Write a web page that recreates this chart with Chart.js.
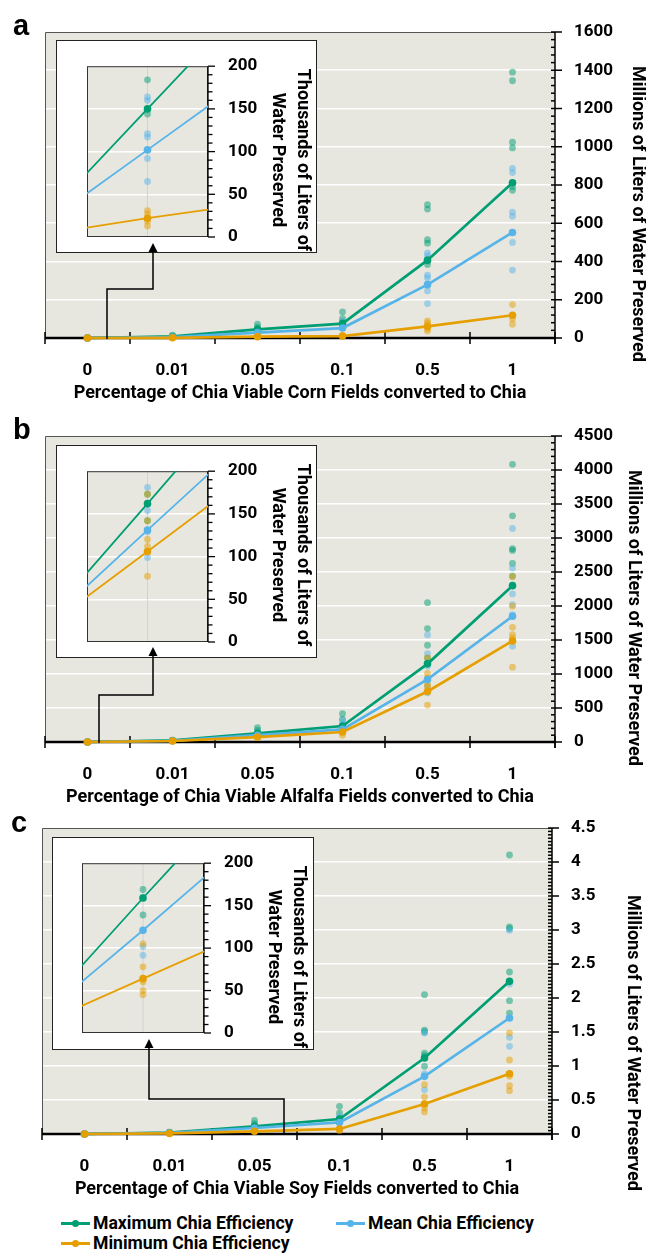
<!DOCTYPE html>
<html>
<head>
<meta charset="utf-8">
<script src="https://cdn.jsdelivr.net/npm/chart.js@4.4.1/dist/chart.umd.min.js"></script>
<style>
  body { margin: 0; background: #fff; }
  #fig { position: relative; width: 646px; height: 1253px; overflow: hidden; background: #fff; }
  #fig canvas { position: absolute; }
  .lg { position: absolute; display: flex; align-items: center; height: 20px; font: bold 17.6px Roboto, sans-serif; color: #000; white-space: nowrap; }
  .sw { position: relative; width: 29px; height: 3px; margin-right: 3px; }
  .sw::after { content: ""; position: absolute; left: 11px; top: -2px; width: 7px; height: 7px; border-radius: 50%; background: inherit; }
</style>
</head>
<body>
<div id="fig">
  <canvas id="cornMain" width="646" height="410" style="left:0;top:0"></canvas>
  <canvas id="alfalfaMain" width="646" height="410" style="left:0;top:404px"></canvas>
  <canvas id="soyMain" width="646" height="410" style="left:0;top:796px"></canvas>
  <canvas id="cornInset" width="290" height="306" style="left:50px;top:36px"></canvas>
  <canvas id="alfalfaInset" width="290" height="306" style="left:50px;top:441px"></canvas>
  <canvas id="soyInset" width="290" height="305" style="left:46px;top:833px"></canvas>

  <div class="lg" style="left:61px;top:1213px"><span class="sw" style="background:#009E73"></span>Maximum Chia Efficiency</div>
  <div class="lg" style="left:336px;top:1213px"><span class="sw" style="background:#56B4E9"></span>Mean Chia Efficiency</div>
  <div class="lg" style="left:61px;top:1233px"><span class="sw" style="background:#E69F00"></span>Minimum Chia Efficiency</div>
</div>
<script>
// x categories (fraction of viable fields converted)
const categories = ["0", "0.01", "0.05", "0.1", "0.5", "1"];
// the insets zoom in on the 0.01 category: positions 0, 1, 2 = 0, 0.01, 0.05
const insetPositions = [0, 1, 2];

// Corn, millions of liters
const cornMax = [0, 8, 45, 75, 407, 812];
const cornMean = [0, 5, 28, 52, 279, 552];
const cornMin = [0, 1, 7, 10, 61, 119];
const cornMaxRuns = [[], [15], [73, 57], [136, 101, 84], [697, 674, 514, 496, 402, 384], [1390, 1345, 1024, 994, 791, 772]];
const cornMeanRuns = [[], [], [40, 35], [84, 67], [445, 430, 328, 314, 246, 180], [887, 865, 658, 636, 500, 355]];
const cornMinRuns = [[], [], [], [14], [89, 79, 49, 37], [175, 101, 72]];

// Alfalfa, millions of liters
const alfalfaMax = [0, 23, 127, 235, 1149, 2299];
const alfalfaMean = [0, 18, 100, 186, 920, 1849];
const alfalfaMin = [0, 15, 73, 147, 743, 1487];
const alfalfaMaxRuns = [[], [], [210, 171], [416, 333], [2049, 1668, 1423, 1237, 1164], [4084, 3326, 2842, 2817, 2626, 2440]];
const alfalfaMeanRuns = [[], [], [], [308, 259], [1575, 1301, 1115, 822, 724], [3140, 2558, 2177, 2020, 1873, 1409]];
const alfalfaMinRuns = [[], [], [], [98], [1237, 1008, 944, 846, 812, 543], [2430, 1996, 1687, 1580, 1531, 1100]];

// Soy, millions of liters
const soyMax = [0, 0.022, 0.113, 0.22, 1.118, 2.245];
const soyMean = [0, 0.017, 0.088, 0.17, 0.848, 1.706];
const soyMin = [0, 0.009, 0.04, 0.074, 0.441, 0.887];
const soyMaxRuns = [[], [], [0.2, 0.152], [0.407, 0.309], [2.049, 1.529, 1.5, 1.19, 1.152, 0.995], [4.103, 3.044, 3.02, 2.382, 1.961, 1.779]];
const soyMeanRuns = [[], [], [], [0.26, 0.21], [1.485, 0.887, 0.652], [2.995, 2.206, 1.422, 1.289]];
const soyMinRuns = [[], [], [], [0.049], [0.725, 0.544, 0.382, 0.324], [1.485, 1.088, 0.848, 0.711, 0.637]];

// Insets, thousands of liters (0, 0.01, 0.05) and the runs at 0.01
const cornInsetMax = [0, 150, 300];
const cornInsetMean = [0, 102, 204];
const cornInsetMin = [0, 22, 42];
const cornInsetMaxRuns = [184, 144];
const cornInsetMeanRuns = [164, 160, 121, 117, 92, 65];
const cornInsetMinRuns = [31, 27, 18.5, 13];

const alfalfaInsetMax = [0, 162, 326];
const alfalfaInsetMean = [0, 131, 261];
const alfalfaInsetMin = [0, 106, 212];
const alfalfaInsetMaxRuns = [173, 142];
const alfalfaInsetMeanRuns = [181, 154, 129, 99];
const alfalfaInsetMinRuns = [173, 142, 120, 112, 77];

const soyInsetMax = [0, 159, 315];
const soyInsetMean = [0, 121, 245];
const soyInsetMin = [0, 64, 128];
const soyInsetMaxRuns = [169, 139];
const soyInsetMeanRuns = [160, 102, 91.5];
const soyInsetMinRuns = [105, 78, 60, 50, 45];

const yTitle = "Millions of Liters of Water Preserved";
const insetTitle = ["Thousands of Liters of", "Water Preserved"];

const COLORS = { max: "#009E73", mean: "#56B4E9", min: "#E69F00" };
const FADED = { max: "rgba(0,158,115,0.5)", mean: "rgba(86,180,233,0.5)", min: "rgba(230,159,0,0.5)" };
const PLOT_BG = "#e8e7df";
const BOLD17 = { family: "Roboto", size: 17, weight: "bold" };
const BOLD18 = { family: "Roboto", size: 18, weight: "bold" };

Chart.defaults.font.family = "Roboto";
Chart.defaults.color = "#000";

function runPoints(runs) {
  const pts = [];
  runs.forEach((vals, i) => vals.forEach((v) => pts.push({ x: categories[i], y: v })));
  return pts;
}

function lineSet(label, data, color, width, radius) {
  return {
    label, data, clip: false,
    borderColor: color, backgroundColor: color, borderWidth: width,
    pointRadius: radius, pointBackgroundColor: color, pointBorderWidth: 0, tension: 0,
  };
}

function dotSet(label, data, color, radius, clip) {
  return {
    label, data, clip, showLine: false,
    pointRadius: radius, pointBackgroundColor: color, pointBorderWidth: 0,
  };
}

function seg(ctx, x1, y1, x2, y2) {
  ctx.beginPath();
  ctx.moveTo(x1, y1);
  ctx.lineTo(x2, y2);
  ctx.stroke();
}

function rotatedText(ctx, text, x, y) {
  ctx.save();
  ctx.translate(x, y);
  ctx.rotate(Math.PI / 2);
  ctx.textAlign = "center";
  ctx.textBaseline = "middle";
  ctx.fillText(text, 0, 0);
  ctx.restore();
}

// frame, ticks, panel letter and axis title of the big charts
const mainDecor = {
  id: "decor",
  beforeDraw(chart) {
    const { ctx, chartArea: a } = chart;
    ctx.save();
    ctx.fillStyle = PLOT_BG;
    ctx.fillRect(a.left, a.top, a.right - a.left, a.bottom - a.top);
    ctx.restore();
  },
  beforeDatasetsDraw(chart, args, o) {
    const { ctx, chartArea: a, scales: { x, y } } = chart;
    ctx.save();
    ctx.strokeStyle = "#555";
    ctx.lineWidth = 1;
    ctx.beginPath();
    ctx.moveTo(a.left + 0.5, a.bottom);
    ctx.lineTo(a.left + 0.5, a.top + 0.5);
    ctx.lineTo(a.right, a.top + 0.5);
    ctx.stroke();

    ctx.strokeStyle = "#000";
    ctx.lineWidth = 1.5;
    seg(ctx, a.right, a.top, a.right, a.bottom + 6);
    const n = Math.round(y.max / o.minor);
    const per = Math.round(o.step / o.minor);
    for (let k = 0; k <= n; k++) {
      const py = y.getPixelForValue(k * o.minor);
      if (k % per === 0) seg(ctx, a.right - 4, py, a.right + 7, py);
      else seg(ctx, a.right - 4, py, a.right, py);
    }

    const half = (x.getPixelForValue(1) - x.getPixelForValue(0)) / 2;
    for (let i = 0; i <= categories.length; i++) {
      const px = x.getPixelForValue(0) - half + i * 2 * half;
      seg(ctx, px, a.bottom - 6, px, a.bottom + 6);
    }
    ctx.lineWidth = 2.5;
    seg(ctx, a.left, a.bottom, a.right, a.bottom);
    ctx.restore();
  },
  afterDraw(chart, args, o) {
    const { ctx } = chart;
    ctx.save();
    ctx.fillStyle = "#000";
    ctx.font = "bold 29px 'Liberation Sans', Arial, sans-serif";
    ctx.textBaseline = "alphabetic";
    ctx.fillText(o.letter, o.letterX, o.letterY);
    ctx.font = "bold 18px Roboto";
    rotatedText(ctx, yTitle, o.titleX, o.titleY);
    ctx.restore();
  },
};

// white box, plot frame, ticks, arrow and title of the insets (page coordinates)
const insetDecor = {
  id: "insetDecor",
  beforeDraw(chart, args, o) {
    const { ctx, chartArea: a } = chart;
    const [ox, oy] = o.origin;
    ctx.save();
    ctx.translate(-ox, -oy);
    const [bx1, by1, bx2, by2] = o.box;
    ctx.fillStyle = "#fff";
    ctx.fillRect(bx1, by1, bx2 - bx1, by2 - by1);
    ctx.strokeStyle = "#222";
    ctx.lineWidth = 1;
    ctx.strokeRect(bx1 + 0.5, by1 + 0.5, bx2 - bx1 - 1, by2 - by1 - 1);
    ctx.restore();
    ctx.save();
    ctx.fillStyle = PLOT_BG;
    ctx.fillRect(a.left, a.top, a.right - a.left, a.bottom - a.top);
    ctx.restore();
  },
  beforeDatasetsDraw(chart) {
    const { ctx, chartArea: a, scales: { x, y } } = chart;
    ctx.save();
    ctx.strokeStyle = "#d2d2d2";
    ctx.lineWidth = 1;
    const cx = x.getPixelForValue(1);
    seg(ctx, cx, a.top, cx, a.bottom);
    ctx.strokeStyle = "#333";
    ctx.strokeRect(a.left + 0.5, a.top + 0.5, a.right - a.left - 1, a.bottom - a.top - 1);
    ctx.strokeStyle = "#000";
    ctx.lineWidth = 1.3;
    seg(ctx, a.right, a.top, a.right, a.bottom);
    for (let v = 0; v <= 200; v += 10) {
      const py = y.getPixelForValue(v);
      seg(ctx, a.right, py, a.right + (v % 50 === 0 ? 7 : 4.5), py);
    }
    ctx.restore();
  },
  afterDraw(chart, args, o) {
    const { ctx } = chart;
    const [ox, oy] = o.origin;
    ctx.save();
    ctx.translate(-ox, -oy);
    ctx.strokeStyle = "#000";
    ctx.fillStyle = "#000";
    ctx.lineWidth = 1.5;
    const pts = o.arrow;
    ctx.beginPath();
    ctx.moveTo(pts[0][0], pts[0][1]);
    for (let i = 1; i < pts.length; i++) ctx.lineTo(pts[i][0], pts[i][1] + (i === pts.length - 1 ? 7 : 0));
    ctx.stroke();
    const [tx, ty] = pts[pts.length - 1];
    ctx.beginPath();
    ctx.moveTo(tx, ty);
    ctx.lineTo(tx - 4.5, ty + 9);
    ctx.lineTo(tx + 4.5, ty + 9);
    ctx.closePath();
    ctx.fill();
    ctx.font = "bold 18px Roboto";
    rotatedText(ctx, insetTitle[0], o.titleX[0], o.titleY);
    rotatedText(ctx, insetTitle[1], o.titleX[1], o.titleY);
    ctx.restore();
  },
};

function mainChart(id, d, g) {
  return new Chart(document.getElementById(id), {
    type: "line",
    data: {
      labels: categories,
      datasets: [
        lineSet("Minimum Chia Efficiency", d.min, COLORS.min, 2.7, 3.8),
        lineSet("Mean Chia Efficiency", d.mean, COLORS.mean, 2.7, 3.8),
        lineSet("Maximum Chia Efficiency", d.max, COLORS.max, 2.7, 3.8),
        dotSet("Minimum runs", runPoints(d.minRuns), FADED.min, 3.4, false),
        dotSet("Mean runs", runPoints(d.meanRuns), FADED.mean, 3.4, false),
        dotSet("Maximum runs", runPoints(d.maxRuns), FADED.max, 3.4, false),
      ],
    },
    options: {
      responsive: false,
      animation: false,
      events: [],
      layout: { padding: { left: g.left, top: 32, right: 0, bottom: 2 } },
      plugins: {
        legend: { display: false },
        tooltip: { enabled: false },
        decor: { step: d.step, minor: d.minor, letter: g.letter, letterX: g.letterX, letterY: g.letterY, titleX: g.titleX, titleY: g.titleY },
      },
      scales: {
        x: {
          offset: true,
          grid: { display: false },
          border: { display: false },
          ticks: { font: BOLD17, color: "#000", padding: 15, maxRotation: 0 },
          title: { display: true, text: d.xTitle, font: BOLD18, color: "#000", padding: { top: 0, bottom: 4 } },
          afterFit(s) { s.height = 70; },
        },
        y: {
          position: "right",
          min: 0,
          max: d.yMax,
          grid: { color: "#ffffff", lineWidth: 1.6, drawTicks: false },
          border: { display: false },
          ticks: { stepSize: d.step, font: BOLD17, color: "#000", padding: 19, callback: (v) => String(+v.toFixed(2)) },
          afterFit(s) { s.width = g.axisWidth; },
        },
      },
    },
    plugins: [mainDecor],
  });
}

function insetChart(id, d, g) {
  const xy = (vals) => vals.map((v, i) => ({ x: insetPositions[i], y: v }));
  const atCentre = (vals) => vals.map((v) => ({ x: insetPositions[1], y: v }));
  return new Chart(document.getElementById(id), {
    type: "line",
    data: {
      datasets: [
        lineSet("Minimum Chia Efficiency", xy(d.min), COLORS.min, 1.8, 3.8),
        lineSet("Mean Chia Efficiency", xy(d.mean), COLORS.mean, 1.8, 3.8),
        lineSet("Maximum Chia Efficiency", xy(d.max), COLORS.max, 1.8, 3.8),
        dotSet("Minimum runs", atCentre(d.minRuns), FADED.min, 3.4, false),
        dotSet("Mean runs", atCentre(d.meanRuns), FADED.mean, 3.4, false),
        dotSet("Maximum runs", atCentre(d.maxRuns), FADED.max, 3.4, false),
      ].map((s, i) => (i < 3 ? { ...s, clip: 0 } : s)),
    },
    options: {
      responsive: false,
      animation: false,
      events: [],
      layout: { padding: { left: g.padLeft, top: g.padTop, right: 0, bottom: g.padBottom } },
      plugins: {
        legend: { display: false },
        tooltip: { enabled: false },
        insetDecor: { origin: g.origin, box: g.box, arrow: g.arrow, titleX: g.titleX, titleY: g.titleY },
      },
      scales: {
        x: { type: "linear", min: 0.5, max: 1.5, display: false },
        y: {
          position: "right",
          min: 0,
          max: 200,
          grid: { color: "#ffffff", lineWidth: 1.6, drawTicks: false },
          border: { display: false },
          ticks: { stepSize: 50, font: BOLD17, color: "#000", padding: 20 },
          afterFit(s) { s.width = g.axisWidth; },
        },
      },
    },
    plugins: [insetDecor],
  });
}

mainChart("cornMain",
  { max: cornMax, mean: cornMean, min: cornMin, maxRuns: cornMaxRuns, meanRuns: cornMeanRuns, minRuns: cornMinRuns,
    yMax: 1600, step: 200, minor: 40, xTitle: "Percentage of Chia Viable Corn Fields converted to Chia" },
  { left: 45, axisWidth: 91, letter: "a", letterX: 13, letterY: 35, titleX: 637, titleY: 214 });

mainChart("alfalfaMain",
  { max: alfalfaMax, mean: alfalfaMean, min: alfalfaMin, maxRuns: alfalfaMaxRuns, meanRuns: alfalfaMeanRuns, minRuns: alfalfaMinRuns,
    yMax: 4500, step: 500, minor: 100, xTitle: "Percentage of Chia Viable Alfalfa Fields converted to Chia" },
  { left: 45, axisWidth: 91, letter: "b", letterX: 13, letterY: 35, titleX: 633, titleY: 214 });

mainChart("soyMain",
  { max: soyMax, mean: soyMean, min: soyMin, maxRuns: soyMaxRuns, meanRuns: soyMeanRuns, minRuns: soyMinRuns,
    yMax: 4.5, step: 0.5, minor: 0.05, xTitle: "Percentage of Chia Viable Soy Fields converted to Chia" },
  { left: 42, axisWidth: 94, letter: "c", letterX: 11, letterY: 36, titleX: 632, titleY: 247 });

insetChart("cornInset",
  { max: cornInsetMax, mean: cornInsetMean, min: cornInsetMin, maxRuns: cornInsetMaxRuns, meanRuns: cornInsetMeanRuns, minRuns: cornInsetMinRuns },
  { origin: [50, 36], padLeft: 37, padTop: 21, padBottom: 105, axisWidth: 132,
    box: [56, 40, 317, 253], arrow: [[107, 339], [107, 289], [153, 289], [153, 243]], titleX: [302, 277], titleY: 160 });

insetChart("alfalfaInset",
  { max: alfalfaInsetMax, mean: alfalfaInsetMean, min: alfalfaInsetMin, maxRuns: alfalfaInsetMaxRuns, meanRuns: alfalfaInsetMeanRuns, minRuns: alfalfaInsetMinRuns },
  { origin: [50, 441], padLeft: 37, padTop: 21, padBottom: 105, axisWidth: 132,
    box: [56, 445, 317, 658], arrow: [[99, 743], [99, 695], [153, 695], [153, 647]], titleX: [302, 277], titleY: 555 });

insetChart("soyInset",
  { max: soyInsetMax, mean: soyInsetMean, min: soyInsetMin, maxRuns: soyInsetMaxRuns, meanRuns: soyInsetMeanRuns, minRuns: soyInsetMinRuns },
  { origin: [46, 833], padLeft: 36, padTop: 20, padBottom: 105, axisWidth: 132,
    box: [52, 837, 314, 1050], arrow: [[284, 1134], [284, 1099], [149, 1099], [149, 1039]], titleX: [298, 273], titleY: 957 });
</script>
</body>
</html>
